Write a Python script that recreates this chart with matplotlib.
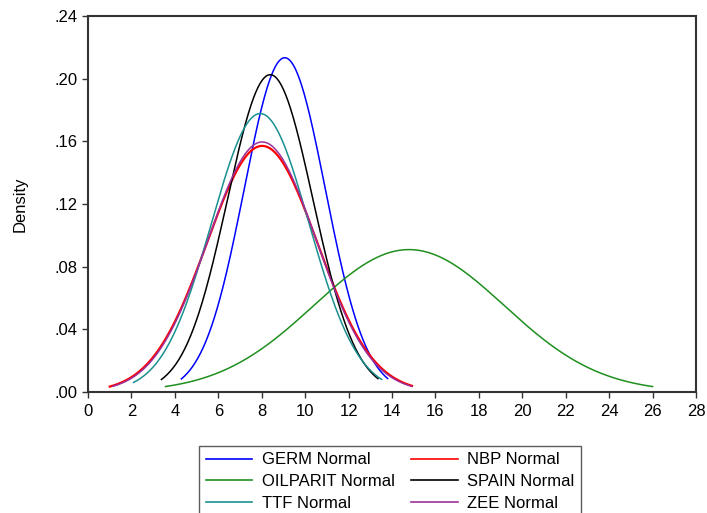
import numpy as np
import matplotlib
matplotlib.use("Agg")
import matplotlib.pyplot as plt


# Fitted normal densities: name, mean, std dev, and x range of each curve
series = ["GERM", "NBP", "OILPARIT", "SPAIN", "TTF", "ZEE"]
means = [9.06, 8.02, 14.78, 8.39, 7.93, 8.02]
stdevs = [1.87, 2.54, 4.39, 1.97, 2.245, 2.50]
x_min = [4.3, 1.0, 3.57, 3.38, 2.1, 1.14]
x_max = [13.8, 14.92, 26.0, 13.35, 13.52, 14.9]
colors = ["#0000ff", "#ff0000", "#1f8f1f", "#000000", "#1a9090", "#9b309b"]

x_ticks = list(range(0, 30, 2))
y_ticks = [0.00, 0.04, 0.08, 0.12, 0.16, 0.20, 0.24]
y_tick_labels = [".00", ".04", ".08", ".12", ".16", ".20", ".24"]

plt.rcParams["font.family"] = ["Liberation Sans", "DejaVu Sans"]

fig = plt.figure(figsize=(7.07, 5.13), dpi=100)
ax = fig.add_axes([0.1245, 0.2359, 0.860, 0.733])

for name, mu, sd, lo, hi, col in zip(series, means, stdevs, x_min, x_max, colors):
    xs = np.linspace(lo, hi, 300)
    dens = np.exp(-0.5 * ((xs - mu) / sd) ** 2) / (sd * np.sqrt(2 * np.pi))
    lw = 1.6 if name == "NBP" else 1.1
    ax.plot(xs, dens, color=col, linewidth=lw, label=name + " Normal")

ax.set_xlim(0, 28)
ax.set_ylim(0, 0.24)
ax.set_xticks(x_ticks)
ax.set_yticks(y_ticks)
ax.set_yticklabels(y_tick_labels)
ax.tick_params(direction="out", length=4, width=1, labelsize=12, color="#333333")
ax.tick_params(axis="x", pad=5)
ax.tick_params(top=False, right=False)
for side in ax.spines.values():
    side.set_linewidth(1.5)
    side.set_color("#333333")
ax.set_ylabel("Density", fontsize=12, labelpad=19)

handles, labels = ax.get_legend_handles_labels()
# reorder so two columns read GERM/NBP, OILPARIT/SPAIN, TTF/ZEE across
order = [0, 2, 4, 1, 3, 5]
leg = fig.legend([handles[i] for i in order], [labels[i] for i in order],
                 loc="upper left", bbox_to_anchor=(0.2815, 0.131), ncol=2,
                 fontsize=12, frameon=True, fancybox=False, handlelength=2.8,
                 columnspacing=1.0, handletextpad=0.55, labelspacing=0.4,
                 borderpad=0.4, borderaxespad=0)
leg.get_frame().set_edgecolor("#333333")
leg.get_frame().set_linewidth(1.0)
for line in leg.get_lines():
    line.set_linewidth(1.2)

fig.savefig("out.png", dpi=100)
